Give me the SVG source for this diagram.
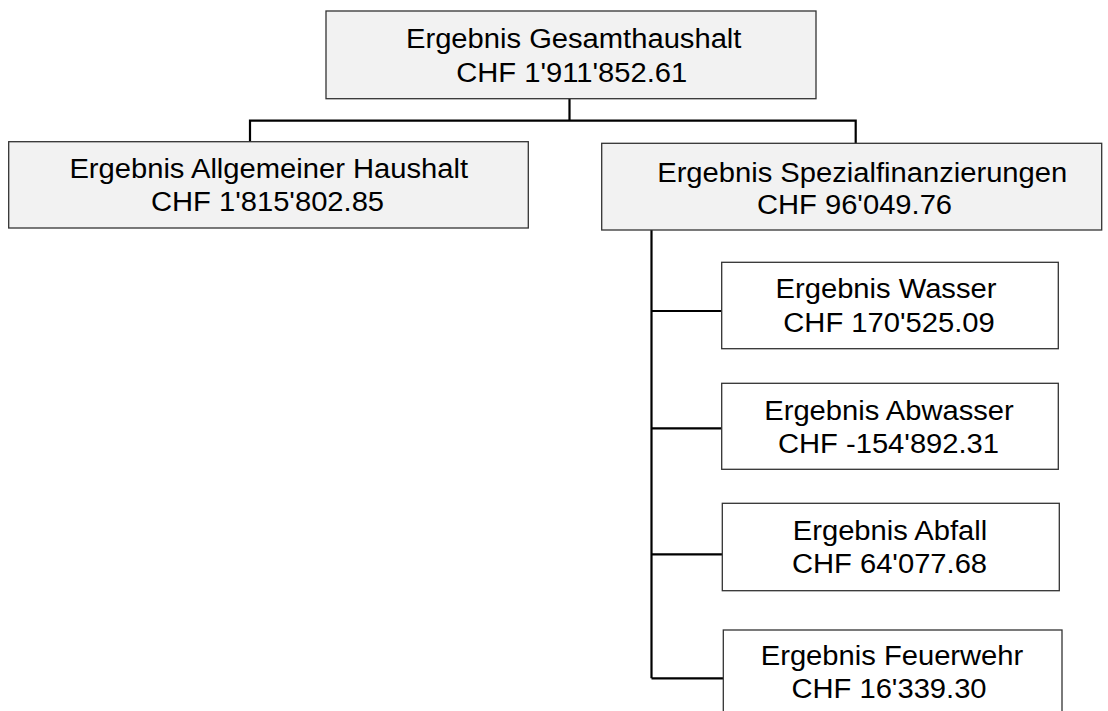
<svg xmlns="http://www.w3.org/2000/svg" width="1108" height="711" viewBox="0 0 1108 711">
<style>
.box{fill:#f2f2f2;stroke:#333;stroke-width:1.3}
.cbox{fill:#fff;stroke:#333;stroke-width:1.3}
.t{font-family:"Liberation Sans",Arial,sans-serif;font-size:27px;fill:#000;text-anchor:middle}
.c{stroke:#000;stroke-width:2.2;fill:none}
</style>
<rect width="1108" height="711" fill="#fff"/>
<g id="connectors">
<path class="c" d="M569.5 98.7V120.7M250 141.7V120.7H855.7V143.3"/>
<path class="c" d="M651.5 230V678.3M651.5 311H721.7M651.5 428.3H721.7M651.5 554.3H722.3M651.5 678.3H723.3"/>
</g>
<g id="gesamt">
<rect class="box" x="326" y="11" width="490" height="87.7"/>
<text class="t" transform="matrix(1.08 0 0 1 573.7 48)">Ergebnis Gesamthaushalt</text>
<text class="t" transform="matrix(1.08 0 0 1 571.7 81.7)">CHF 1'911'852.61</text>
</g>
<g id="allgemein">
<rect class="box" x="8.7" y="141.7" width="519.6" height="86.3"/>
<text class="t" transform="matrix(1.08 0 0 1 268.7 177.7)">Ergebnis Allgemeiner Haushalt</text>
<text class="t" transform="matrix(1.08 0 0 1 267.5 211)">CHF 1'815'802.85</text>
</g>
<g id="spezial">
<rect class="box" x="601.7" y="143.3" width="500" height="86.7"/>
<text class="t" transform="matrix(1.08 0 0 1 862.2 181.7)">Ergebnis Spezialfinanzierungen</text>
<text class="t" transform="matrix(1.08 0 0 1 854.5 214)">CHF 96'049.76</text>
</g>
<g id="wasser">
<rect class="cbox" x="721.7" y="262.3" width="336.6" height="86.4"/>
<text class="t" transform="matrix(1.08 0 0 1 886 298.3)">Ergebnis Wasser</text>
<text class="t" transform="matrix(1.08 0 0 1 889 331.7)">CHF 170'525.09</text>
</g>
<g id="abwasser">
<rect class="cbox" x="721.7" y="383.3" width="336.6" height="86"/>
<text class="t" transform="matrix(1.08 0 0 1 889 419.6)">Ergebnis Abwasser</text>
<text class="t" transform="matrix(1.08 0 0 1 888.5 453)">CHF -154'892.31</text>
</g>
<g id="abfall">
<rect class="cbox" x="722.3" y="503.3" width="337" height="87.4"/>
<text class="t" transform="matrix(1.08 0 0 1 890 540)">Ergebnis Abfall</text>
<text class="t" transform="matrix(1.08 0 0 1 889.5 573.3)">CHF 64'077.68</text>
</g>
<g id="feuerwehr">
<rect class="cbox" x="723.3" y="630" width="338.7" height="86"/>
<text class="t" transform="matrix(1.08 0 0 1 892 665)">Ergebnis Feuerwehr</text>
<text class="t" transform="matrix(1.08 0 0 1 889 698.3)">CHF 16'339.30</text>
</g>
</svg>
